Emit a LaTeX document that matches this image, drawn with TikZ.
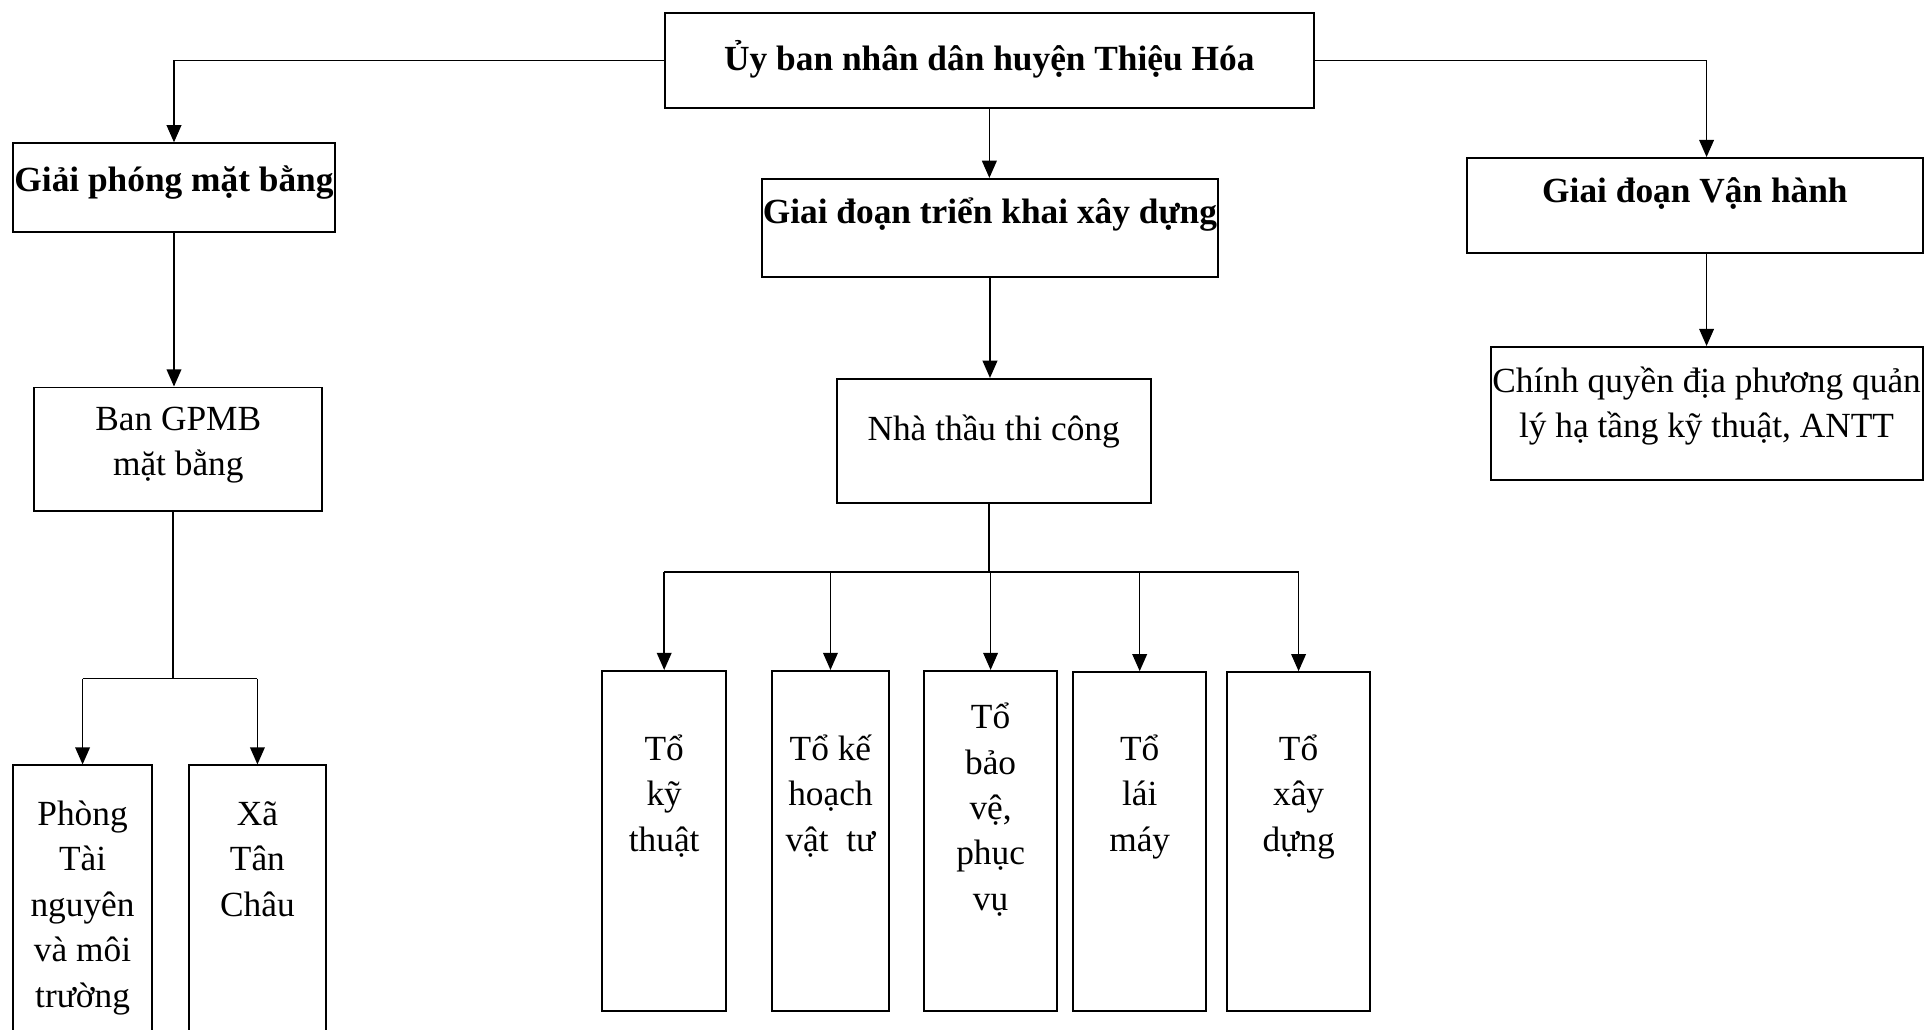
\documentclass[tikz,border=0pt]{standalone}
\usepackage{fontspec}
\setmainfont{Liberation Serif}
\usetikzlibrary{arrows.meta}
\newlength\px
\setlength\px{0.5pt}
% text of a box: width, height, first baseline, lines
\newcommand\boxtext[4]{\parbox[c][#2\px][t]{#1\px}{\centering
    \vspace*{\dimexpr#3\px-\ht\strutbox\relax}\strut#4\par}}
\tikzset{box/.style={draw, line width=0.8pt, inner sep=0pt, anchor=north west},
    link/.style={draw, line width=0.6pt},
    linkarrow/.style={link, -{Triangle[length=7pt,width=6pt]}}}

\begin{document}
\begin{tikzpicture}[x=0.5pt, y=-0.5pt, font=\fontsize{14.4pt}{18.5pt}\selectfont]
    \useasboundingbox (0,0) rectangle (1568,839);
    \node[box] (uyban) at (541,10) {\boxtext{529}{77}{47}{\bfseries Ủy ban nhân dân huyện Thiệu Hóa}};
    \node[box] (gpmb) at (10,116) {\boxtext{262}{72}{39}{\bfseries Giải phóng mặt bằng}};
    \node[box] (trienkhai) at (620,145) {\boxtext{372}{80}{36}{\bfseries Giai đoạn triển khai xây dựng}};
    \node[box] (vanhanh) at (1195,128) {\boxtext{371}{77}{36}{\bfseries Giai đoạn Vận hành}};
    \node[box] (bangpmb) at (27,315) {\boxtext{235}{101}{35}{Ban GPMB\\mặt bằng}};
    \node[box] (nhathau) at (681,308) {\boxtext{256}{101}{50}{Nhà thầu thi công}};
    \node[box] (chinhquyen) at (1214,282) {\boxtext{352}{108}{37}{Chính quyền địa phương quản\\lý hạ tầng kỹ thuật, ANTT}};
    \node[box] (phong) at (10,623) {\boxtext{113}{240}{49}{Phòng\\Tài\\nguyên\\và môi\\trường}};
    \node[box] (xa) at (153,623) {\boxtext{112}{240}{49}{Xã\\Tân\\Châu}};
    \node[box] (kt) at (490,546) {\boxtext{101}{277}{73}{Tổ\\kỹ\\thuật}};
    \node[box] (kh) at (628,546) {\boxtext{96}{277}{73}{Tổ kế\\hoạch\\vật~ tư}};
    \node[box] (bv) at (752,546) {\boxtext{109}{277}{47}{Tổ\\bảo\\vệ,\\phục\\vụ}};
    \node[box] (lm) at (874,547) {\boxtext{108}{276}{72}{Tổ\\lái\\máy}};
    \node[box] (xd) at (999,547) {\boxtext{117}{276}{72}{Tổ\\xây\\dựng}};

    \draw[linkarrow] (uyban.west) -| (gpmb.north);
    \draw[linkarrow] (uyban.east) -| (vanhanh.north -| chinhquyen.north);
    \draw[linkarrow] (vanhanh.south -| chinhquyen.north) -- (chinhquyen.north);
    \draw[linkarrow] (uyban.south) -- (uyban.south |- trienkhai.north);
    \draw[linkarrow] (trienkhai.south) -- (trienkhai.south |- nhathau.north);
    \draw[linkarrow] (gpmb.south) -- (gpmb.south |- bangpmb.north);

    % left branch
    \coordinate (leftbus) at (141,553);
    \draw[link] (bangpmb.south -| leftbus) -- (leftbus);
    \draw[link] (leftbus -| phong.north) -- (leftbus -| xa.north);
    \foreach \t in {phong,xa}
        \draw[linkarrow] (leftbus -| \t.north) -- (\t.north);

    % teams of the contractor
    \coordinate (tobus) at (806,466);
    \draw[link] (nhathau.south -| tobus) -- (tobus);
    \draw[link] (tobus -| kt.north) -- (tobus -| xd.north);
    \foreach \t in {kt,kh,bv,lm,xd}
        \draw[linkarrow] (tobus -| \t.north) -- (\t.north);
\end{tikzpicture}
\end{document}
